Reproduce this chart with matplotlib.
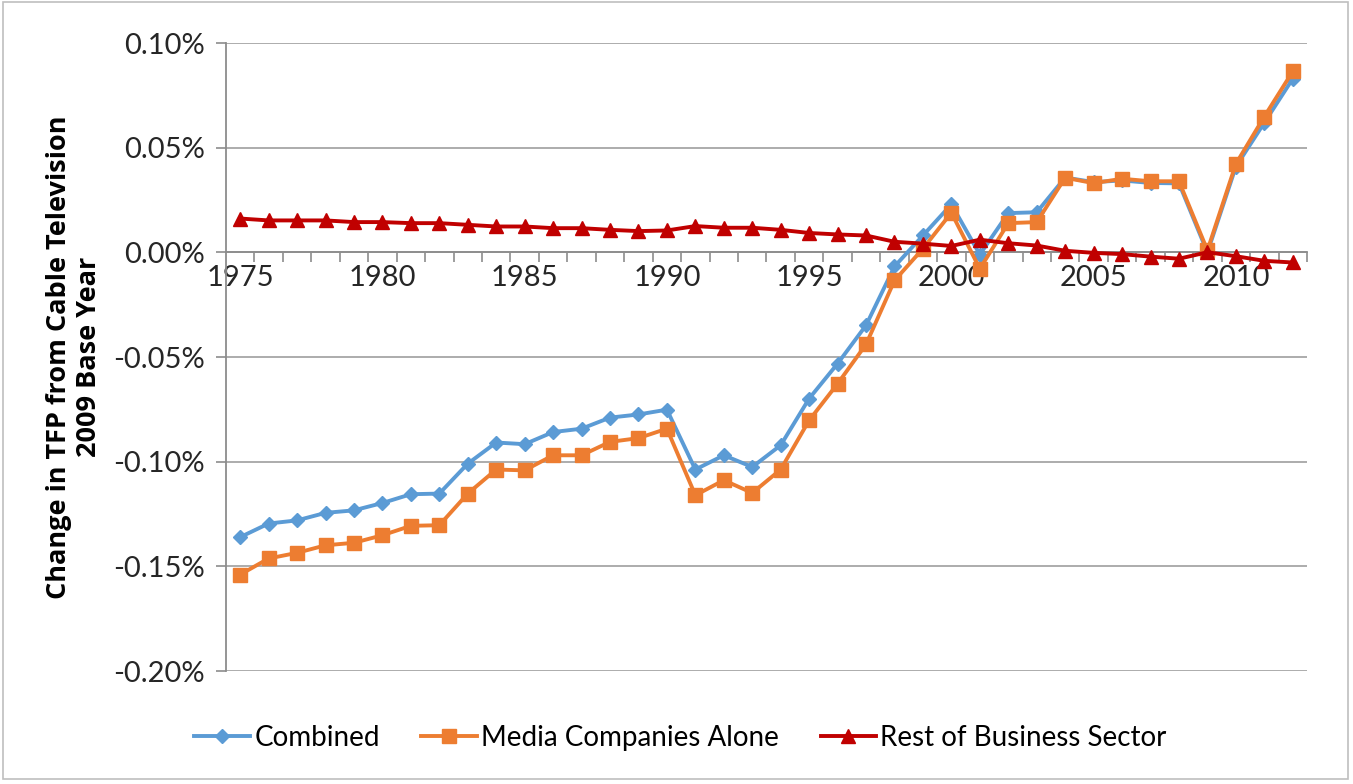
import numpy as np
import matplotlib.pyplot as plt
from matplotlib.patches import Rectangle
from matplotlib.ticker import FuncFormatter, MultipleLocator, FixedLocator

plt.rcParams['font.family'] = ['Lato', 'DejaVu Sans']

years = list(range(1975, 2013))

# Change in TFP, in percent
combined = [-0.136, -0.1295, -0.128, -0.1244, -0.1232, -0.1197, -0.1155, -0.1152,
            -0.1009, -0.0908, -0.0916, -0.0858, -0.0842, -0.0789, -0.0774, -0.0751,
            -0.1037, -0.0969, -0.1025, -0.0921, -0.0698, -0.0531, -0.0348, -0.0067,
            0.0081, 0.0230, -0.0010, 0.0188, 0.0192, 0.0358, 0.0336, 0.0344,
            0.0332, 0.0330, 0.0000, 0.0410, 0.0620, 0.0830]
media = [-0.1539, -0.1462, -0.1435, -0.1399, -0.1387, -0.1351, -0.1306, -0.1303,
         -0.1152, -0.1037, -0.1041, -0.0969, -0.0969, -0.0905, -0.0887, -0.0842,
         -0.1160, -0.1088, -0.1149, -0.1037, -0.0802, -0.0627, -0.0439, -0.0134,
         0.0018, 0.0190, -0.0078, 0.0140, 0.0145, 0.0357, 0.0331, 0.0352,
         0.0340, 0.0340, 0.0010, 0.0423, 0.0649, 0.0865]
rest = [0.0162, 0.0153, 0.0153, 0.0153, 0.0145, 0.0145, 0.0140, 0.0140,
        0.0132, 0.0124, 0.0124, 0.0116, 0.0116, 0.0108, 0.0102, 0.0105,
        0.0126, 0.0118, 0.0118, 0.0108, 0.0093, 0.0086, 0.0081, 0.0051,
        0.0042, 0.0031, 0.0061, 0.0044, 0.0033, 0.0008, -0.0002, -0.0008,
        -0.0020, -0.0030, 0.0001, -0.0018, -0.0040, -0.0048]

labels = ['Combined', 'Media Companies Alone', 'Rest of Business Sector']
colors = {'combined': '#5B9BD5', 'media': '#ED7D31', 'rest': '#C00000'}

fig = plt.figure(figsize=(13.53, 7.84), dpi=100)
ax = fig.add_axes([0.167, 0.144, 0.799, 0.801])

ax.plot(years, combined, '-D', color=colors['combined'], lw=2.8, ms=7, label=labels[0], zorder=3)
ax.plot(years, media, '-s', color=colors['media'], lw=2.8, ms=9.5, label=labels[1], zorder=4)
ax.plot(years, rest, '-^', color=colors['rest'], lw=2.8, ms=9.5, label=labels[2], zorder=5)

ax.set_xlim(1974.5, 2012.5)
ax.set_ylim(-0.2, 0.1)
ax.yaxis.set_major_locator(MultipleLocator(0.05))
ax.yaxis.set_major_formatter(FuncFormatter(lambda v, p: '{:.2f}%'.format(v)))
ax.grid(axis='y', color='#A6A6A6', lw=1.3, zorder=0)

ax.xaxis.set_major_locator(FixedLocator(range(1975, 2013, 5)))
ax.xaxis.set_minor_locator(FixedLocator(np.arange(1975.5, 2013, 1.0)))
ax.tick_params(axis='x', which='major', length=0, pad=9, labelsize=21, labelcolor='#262626')
ax.tick_params(axis='x', which='minor', length=7, width=1.2, color='#8C8C8C', direction='out')
ax.tick_params(axis='y', length=7, width=1.2, color='#8C8C8C', pad=8, labelsize=21, labelcolor='#262626')

ax.spines['bottom'].set_position(('data', 0))
ax.spines['bottom'].set_color('#8C8C8C')
ax.spines['bottom'].set_linewidth(1.3)
ax.spines['left'].set_color('#8C8C8C')
ax.spines['left'].set_linewidth(1.3)
ax.spines['top'].set_visible(False)
ax.spines['right'].set_visible(False)

ax.set_ylabel('Change in TFP from Cable Television\n2009 Base Year', fontsize=19.5,
              family=['Open Sans', 'DejaVu Sans'], fontweight='bold',
              linespacing=1.2, labelpad=8)

fig.legend(loc='center', bbox_to_anchor=(0.503, 0.059), ncol=3, frameon=False,
           fontsize=20, handlelength=2.0, handletextpad=0.15, columnspacing=1.5)

fig.patches.append(Rectangle((0.002, 0.007), 0.994, 0.99, transform=fig.transFigure,
                             fill=False, edgecolor='#BFBFBF', lw=1.2))

fig.savefig('out.png', dpi=100, facecolor='white')
